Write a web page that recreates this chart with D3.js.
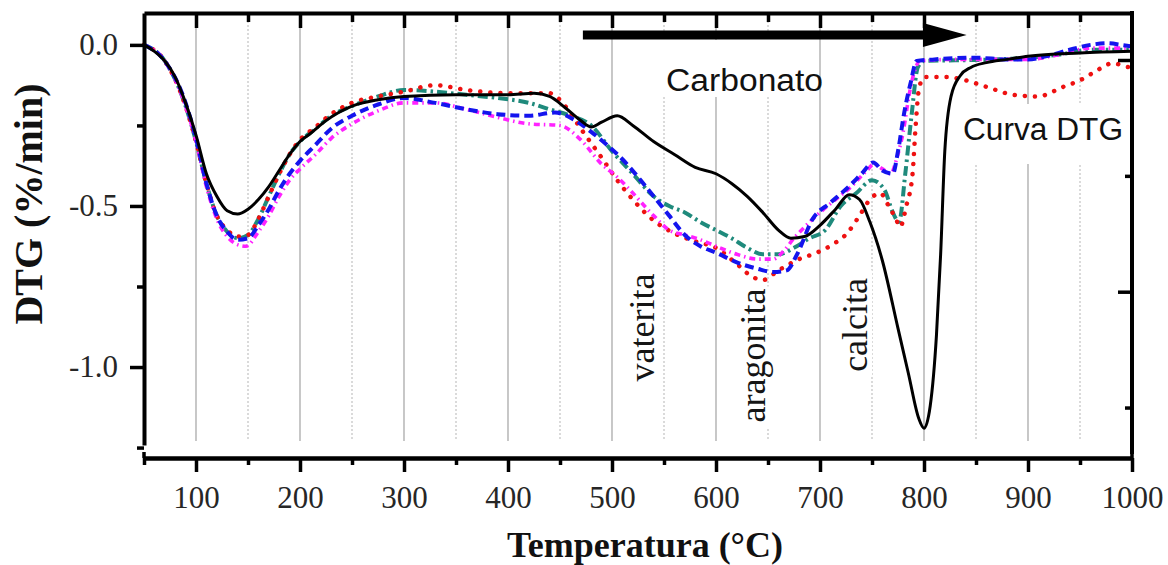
<!DOCTYPE html>
<html>
<head>
<meta charset="utf-8">
<script src="https://cdn.jsdelivr.net/npm/d3@7"></script>
<style>
  html, body { margin: 0; padding: 0; background: #fff; }
  svg { display: block; }
</style>
</head>
<body>
<svg id="chart" width="1168" height="565"></svg>
<script>
// DTG curves: [temperature °C, DTG %/min]
const curveBlack = [
  [50,0],[60,-0.02],[70,-0.05],[80,-0.10],[90,-0.18],[100,-0.28],[110,-0.40],[120,-0.47],
  [130,-0.515],[140,-0.525],[150,-0.51],[160,-0.48],[170,-0.44],[180,-0.39],[190,-0.34],
  [200,-0.30],[210,-0.275],[225,-0.235],[250,-0.19],[275,-0.17],[300,-0.16],[350,-0.155],
  [400,-0.155],[425,-0.15],[440,-0.16],[455,-0.195],[470,-0.235],[480,-0.255],[490,-0.24],
  [505,-0.22],[520,-0.25],[540,-0.30],[560,-0.34],[580,-0.38],[600,-0.40],[615,-0.43],
  [630,-0.47],[645,-0.52],[660,-0.575],[672,-0.60],[685,-0.595],[700,-0.56],[715,-0.51],
  [728,-0.465],[738,-0.48],[748,-0.55],[760,-0.67],[775,-0.88],[785,-1.02],[795,-1.16],
  [800,-1.19],[806,-1.12],[812,-0.90],[816,-0.65],[820,-0.33],[826,-0.16],[835,-0.095],
  [845,-0.07],[860,-0.055],[880,-0.045],[900,-0.035],[950,-0.025],[1000,-0.02]
];
const curveRed = [
  [50,0],[70,-0.05],[90,-0.19],[100,-0.30],[110,-0.43],[120,-0.53],[130,-0.575],[140,-0.595],
  [150,-0.59],[160,-0.54],[170,-0.47],[180,-0.40],[190,-0.34],[200,-0.295],[215,-0.255],
  [230,-0.215],[250,-0.18],[275,-0.16],[300,-0.145],[330,-0.125],[360,-0.14],[400,-0.15],
  [440,-0.15],[455,-0.19],[470,-0.26],[490,-0.35],[505,-0.42],[520,-0.48],[540,-0.545],
  [560,-0.585],[580,-0.61],[600,-0.63],[620,-0.68],[635,-0.72],[645,-0.73],[660,-0.70],
  [680,-0.665],[697,-0.645],[712,-0.62],[726,-0.585],[738,-0.53],[748,-0.48],[758,-0.46],
  [766,-0.50],[773,-0.54],[777,-0.565],[783,-0.50],[789,-0.40],[792,-0.25],[795,-0.14],
  [800,-0.10],[822,-0.10],[840,-0.11],[860,-0.13],[886,-0.155],[909,-0.16],[934,-0.13],
  [950,-0.11],[962,-0.088],[982,-0.057],[995,-0.068],[1000,-0.07]
];
const curveBlue = [
  [50,0],[70,-0.05],[90,-0.18],[100,-0.29],[110,-0.43],[120,-0.53],[130,-0.58],[140,-0.605],
  [150,-0.60],[160,-0.56],[170,-0.51],[180,-0.45],[190,-0.40],[200,-0.36],[215,-0.31],
  [230,-0.26],[250,-0.22],[275,-0.185],[300,-0.165],[330,-0.18],[360,-0.20],[390,-0.215],
  [420,-0.22],[445,-0.21],[465,-0.235],[480,-0.27],[495,-0.31],[510,-0.355],[525,-0.41],
  [540,-0.47],[555,-0.53],[570,-0.59],[585,-0.625],[600,-0.645],[620,-0.675],[640,-0.695],
  [655,-0.705],[668,-0.70],[678,-0.65],[693,-0.54],[710,-0.49],[726,-0.445],[740,-0.40],
  [751,-0.365],[760,-0.39],[770,-0.40],[775,-0.33],[781,-0.21],[787,-0.12],[793,-0.05],
  [810,-0.045],[850,-0.04],[880,-0.045],[900,-0.045],[918,-0.035],[940,-0.015],[960,0.0],
  [976,0.005],[990,0.0],[1000,-0.005]
];
const curveMagenta = [
  [50,0],[70,-0.05],[90,-0.19],[100,-0.30],[110,-0.44],[120,-0.54],[130,-0.595],[140,-0.62],
  [148,-0.625],[160,-0.58],[170,-0.53],[180,-0.47],[190,-0.42],[200,-0.385],[215,-0.34],
  [230,-0.29],[250,-0.245],[275,-0.205],[300,-0.18],[330,-0.18],[360,-0.20],[390,-0.225],
  [420,-0.245],[450,-0.25],[470,-0.295],[490,-0.37],[505,-0.41],[520,-0.46],[540,-0.53],
  [555,-0.575],[570,-0.59],[585,-0.605],[600,-0.625],[620,-0.65],[640,-0.665],[655,-0.665],
  [665,-0.64],[675,-0.60],[690,-0.55],[700,-0.52],[715,-0.48],[730,-0.44],[745,-0.39],
  [752,-0.37],[760,-0.385],[768,-0.40],[774,-0.35],[780,-0.27],[786,-0.15],[791,-0.08],
  [796,-0.05],[830,-0.045],[870,-0.045],[900,-0.045],[930,-0.03],[960,-0.01],[1000,-0.01]
];
const curveTeal = [
  [50,0],[70,-0.05],[90,-0.19],[100,-0.30],[110,-0.43],[120,-0.53],[130,-0.58],[140,-0.60],
  [150,-0.59],[160,-0.54],[170,-0.47],[180,-0.40],[190,-0.34],[200,-0.30],[215,-0.26],
  [230,-0.22],[250,-0.19],[275,-0.16],[300,-0.14],[330,-0.145],[360,-0.155],[390,-0.165],
  [420,-0.18],[440,-0.20],[460,-0.22],[480,-0.25],[500,-0.33],[520,-0.40],[540,-0.47],
  [555,-0.50],[570,-0.52],[585,-0.55],[600,-0.575],[615,-0.60],[630,-0.63],[645,-0.65],
  [660,-0.65],[675,-0.63],[690,-0.60],[705,-0.575],[720,-0.50],[735,-0.46],[750,-0.42],
  [762,-0.45],[770,-0.52],[776,-0.55],[782,-0.40],[788,-0.22],[794,-0.07],[800,-0.05],
  [830,-0.048],[870,-0.045],[900,-0.04],[930,-0.03],[960,-0.015],[1000,-0.015]
];

// Axis ticks
const xMajorTicks = [100, 200, 300, 400, 500, 600, 700, 800, 900, 1000];
const xMinorTicks = [50, 150, 250, 350, 450, 550, 650, 750, 850, 950];
const yMajorTicks = [0, -0.5, -1.0];
const yMinorTicks = [-0.25, -0.75, -1.25];
const rightMajorTicks = [100, 90];
const rightMinorTicks = [95, 85];

// Annotations
const phaseLabels = [
  { text: "vaterita", t: 545, bottom: -1.045, box: [-0.72, -1.065] },
  { text: "aragonita", t: 652, bottom: -1.172, box: [-0.75, -1.19] },
  { text: "calcita", t: 750, bottom: -1.015, box: [-0.70, -1.03] }
];

const svg = d3.select("#chart");
const plotL = 144, plotR = 1132, plotT = 13, plotB = 445, xAxisY = 458;

const x = d3.scaleLinear().domain([50, 1000]).range([plotL, plotR]);
const y = d3.scaleLinear().domain([-1.242, 0.099]).range([plotB, plotT]);
const yRight = d3.scaleLinear().domain([100, 90]).range([60, 291.7]);

// Vertical grid lines
const grid = svg.append("g");
grid.selectAll("line.maj").data(xMajorTicks.filter(d => d < 1000)).join("line")
  .attr("class", "maj")
  .attr("x1", d => x(d)).attr("x2", d => x(d))
  .attr("y1", plotT).attr("y2", plotB - 4)
  .attr("stroke", "#9a9a9a").attr("stroke-width", 1.1);
grid.selectAll("line.min").data(xMinorTicks.filter(d => d > 50)).join("line")
  .attr("class", "min")
  .attr("x1", d => x(d)).attr("x2", d => x(d))
  .attr("y1", plotT).attr("y2", plotB - 4)
  .attr("stroke", "#b5b5b5").attr("stroke-width", 1)
  .attr("stroke-dasharray", "2 2");

// White text boxes covering the grid
const boxes = svg.append("g").attr("fill", "#fff");
boxes.append("rect").attr("x", x(510)).attr("y", 40).attr("width", x(698) - x(510)).attr("height", 57);
boxes.append("rect").attr("x", x(832)).attr("y", 104).attr("width", x(995) - x(832)).attr("height", 60);
phaseLabels.forEach(p => {
  boxes.append("rect")
    .attr("x", x(p.t) - 36).attr("width", 36)
    .attr("y", y(p.box[0])).attr("height", y(p.box[1]) - y(p.box[0]));
});

// Curves
const line = d3.line().x(d => x(d[0])).y(d => y(d[1])).curve(d3.curveMonotoneX);
const series = [
  { data: curveTeal, color: "#1f8a7c", width: 4, dash: "10 4 2.5 4", cap: "butt" },
  { data: curveRed, color: "#ee1111", width: 4.5, dash: "0.1 10", cap: "round" },
  { data: curveMagenta, color: "#ff22ff", width: 3.6, dash: "6 4 1.5 4", cap: "butt" },
  { data: curveBlue, color: "#1414ee", width: 4, dash: "9 5", cap: "butt" },
  { data: curveBlack, color: "#000", width: 3, dash: null, cap: "round" }
];
svg.append("g").selectAll("path").data(series).join("path")
  .attr("d", d => line(d.data))
  .attr("fill", "none")
  .attr("stroke", d => d.color)
  .attr("stroke-width", d => d.width)
  .attr("stroke-dasharray", d => d.dash)
  .attr("stroke-linecap", d => d.cap)
  .attr("stroke-linejoin", "round");

// Axes
function styleAxis(g, w) {
  g.selectAll(".domain").attr("stroke", "#000").attr("stroke-width", w);
  g.selectAll(".tick line").attr("stroke", "#000").attr("stroke-width", 3.5);
}

// Bottom axis (offset below the plot)
const xMaj = svg.append("g").attr("transform", `translate(0,${xAxisY})`)
  .call(d3.axisBottom(x).tickValues(xMajorTicks).tickSize(14).tickSizeOuter(0).tickPadding(14).tickFormat(d3.format("d")));
styleAxis(xMaj, 4.5);
xMaj.selectAll(".tick text")
  .attr("font-family", "'Liberation Serif', 'Times New Roman', serif")
  .attr("font-size", 31).attr("fill", "#262626");
const xMin = svg.append("g").attr("transform", `translate(0,${xAxisY})`)
  .call(d3.axisBottom(x).tickValues(xMinorTicks).tickSize(7).tickSizeOuter(0).tickFormat(""));
styleAxis(xMin, 0);
xMin.select(".domain").remove();
// end ticks reaching up to the axis edge
svg.append("g").selectAll("line").data([50, 1000]).join("line")
  .attr("x1", d => x(d)).attr("x2", d => x(d))
  .attr("y1", xAxisY - 6).attr("y2", xAxisY)
  .attr("stroke", "#000").attr("stroke-width", 3.5);

// Top frame with inward ticks
const topMaj = svg.append("g").attr("transform", `translate(0,${plotT})`)
  .call(d3.axisBottom(x).tickValues(xMajorTicks.filter(d => d < 1000)).tickSize(15).tickSizeOuter(0).tickFormat(""));
styleAxis(topMaj, 4);
const topMin = svg.append("g").attr("transform", `translate(0,${plotT})`)
  .call(d3.axisBottom(x).tickValues(xMinorTicks.filter(d => d > 50)).tickSize(9).tickSizeOuter(0).tickFormat(""));
styleAxis(topMin, 0);
topMin.select(".domain").remove();

// Left axis
const yMaj = svg.append("g").attr("transform", `translate(${plotL},0)`)
  .call(d3.axisLeft(y).tickValues(yMajorTicks).tickSize(14).tickSizeOuter(0).tickPadding(12)
    .tickFormat(d => d3.format(".1f")(d).replace("\u2212", "-")));
styleAxis(yMaj, 4);
yMaj.selectAll(".tick text")
  .attr("font-family", "'Liberation Serif', 'Times New Roman', serif")
  .attr("font-size", 31).attr("fill", "#262626");
const yMin = svg.append("g").attr("transform", `translate(${plotL},0)`)
  .call(d3.axisLeft(y).tickValues(yMinorTicks).tickSize(7).tickSizeOuter(0).tickFormat(""));
styleAxis(yMin, 0);
yMin.select(".domain").remove();

// Right frame with inward, unlabeled ticks
svg.append("line").attr("x1", plotR).attr("x2", plotR).attr("y1", plotT - 2).attr("y2", xAxisY - 4)
  .attr("stroke", "#000").attr("stroke-width", 4);
const rMaj = svg.append("g").attr("transform", `translate(${plotR},0)`)
  .call(d3.axisLeft(yRight).tickValues(rightMajorTicks).tickSize(14).tickSizeOuter(0).tickFormat(""));
styleAxis(rMaj, 0);
rMaj.select(".domain").remove();
const rMin = svg.append("g").attr("transform", `translate(${plotR},0)`)
  .call(d3.axisLeft(yRight).tickValues(rightMinorTicks).tickSize(7).tickSizeOuter(0).tickFormat(""));
styleAxis(rMin, 0);
rMin.select(".domain").remove();

// Axis titles
svg.append("text")
  .attr("x", 645).attr("y", 557)
  .attr("text-anchor", "middle")
  .attr("font-family", "'Liberation Serif', 'Times New Roman', serif")
  .attr("font-weight", "bold").attr("font-size", 36).attr("fill", "#111")
  .text("Temperatura (°C)");
svg.append("text")
  .attr("transform", "translate(42,204) rotate(-90)")
  .attr("text-anchor", "middle")
  .attr("font-family", "'Liberation Serif', 'Times New Roman', serif")
  .attr("font-weight", "bold").attr("font-size", 40).attr("fill", "#111")
  .text("DTG (%/min)");

// Heating-direction arrow
const arrow = svg.append("g");
arrow.append("rect")
  .attr("x", x(472)).attr("y", 30.5).attr("width", x(801) - x(472)).attr("height", 9)
  .attr("fill", "#000");
arrow.append("path")
  .attr("d", `M${x(799)},23 L${x(841)},35 L${x(799)},47 Z`)
  .attr("fill", "#000");

// Annotation texts
const sans = "'Liberation Sans', Arial, sans-serif";
svg.append("text").attr("x", x(552)).attr("y", 91)
  .attr("font-family", sans).attr("font-size", 31).attr("fill", "#111")
  .attr("textLength", 157).attr("lengthAdjust", "spacingAndGlyphs")
  .text("Carbonato");
svg.append("text").attr("x", x(837.5)).attr("y", 140)
  .attr("font-family", sans).attr("font-size", 31).attr("fill", "#111")
  .attr("textLength", 160).attr("lengthAdjust", "spacingAndGlyphs")
  .text("Curva DTG");

svg.append("g").selectAll("text").data(phaseLabels).join("text")
  .attr("transform", d => `translate(${x(d.t) - 5},${y(d.bottom)}) rotate(-90)`)
  .attr("font-family", "'Liberation Serif', 'Times New Roman', serif")
  .attr("font-size", 36).attr("fill", "#151515")
  .text(d => d.text);
</script>
</body>
</html>
